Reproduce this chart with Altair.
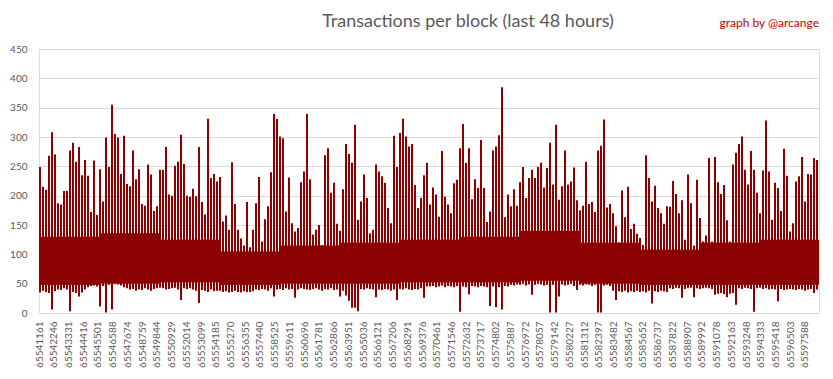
import altair as alt
import pandas as pd

chart_title = "Transactions per block (last 48 hours)"
credit = "graph by @arcange"

first_block = 65541161
last_block = 65598621

tick_blocks = [
    65541161, 65542246, 65543331, 65544416, 65545501, 65546588, 65547674, 65548759,
    65549844, 65550929, 65552014, 65553099, 65554185, 65555270, 65556355, 65557440,
    65558525, 65559611, 65560696, 65561781, 65562866, 65563951, 65565036, 65566121,
    65567206, 65568291, 65569376, 65570461, 65571546, 65572632, 65573717, 65574802,
    65575887, 65576972, 65578057, 65579142, 65580227, 65581312, 65582397, 65583482,
    65584567, 65585652, 65586737, 65587822, 65588907, 65589992, 65591078, 65592163,
    65593248, 65594333, 65595418, 65596503, 65597588,
]

y_ticks = [0, 50, 100, 150, 200, 250, 300, 350, 400, 450]

# highest transaction count inside each consecutive group of blocks
tx_max = [
    249, 215, 210, 268, 308, 270, 187, 185, 208, 208,
    277, 290, 258, 283, 235, 261, 234, 172, 260, 167,
    245, 190, 299, 249, 355, 305, 299, 237, 302, 220,
    216, 277, 228, 245, 186, 183, 253, 236, 174, 182,
    244, 244, 283, 202, 200, 251, 258, 304, 254, 200,
    198, 212, 199, 283, 189, 168, 331, 230, 237, 224,
    232, 156, 166, 142, 257, 186, 142, 127, 115, 189,
    112, 142, 187, 232, 122, 160, 182, 240, 339, 331,
    301, 298, 173, 231, 153, 139, 145, 223, 241, 339,
    228, 134, 142, 150, 116, 269, 281, 205, 222, 152,
    140, 211, 288, 271, 256, 321, 159, 190, 236, 196,
    136, 142, 253, 241, 233, 222, 179, 153, 302, 249,
    307, 331, 301, 284, 288, 218, 179, 196, 235, 256,
    185, 214, 202, 164, 276, 198, 185, 170, 221, 227,
    281, 322, 256, 281, 194, 228, 213, 295, 213, 155,
    173, 277, 284, 303, 385, 163, 202, 182, 211, 183,
    223, 249, 196, 230, 244, 230, 249, 256, 214, 247,
    290, 219, 321, 193, 216, 277, 219, 224, 248, 192,
    175, 183, 258, 186, 189, 172, 277, 285, 330, 180,
    186, 170, 148, 120, 209, 163, 215, 143, 152, 135,
    128, 116, 269, 230, 190, 217, 179, 170, 152, 182,
    181, 225, 203, 170, 192, 125, 236, 187, 115, 227,
    162, 122, 132, 264, 122, 266, 223, 203, 218, 158,
    122, 253, 273, 288, 301, 244, 219, 276, 244, 205,
    170, 243, 328, 241, 159, 222, 213, 174, 280, 234,
    139, 153, 224, 233, 266, 190, 237, 236, 264, 261,
]

# lowest transaction count inside each group of blocks
tx_min = [
    35, 38, 36, 34, 6, 37, 40, 39, 42, 40,
    3, 36, 34, 28, 35, 40, 44, 46, 47, 45,
    11, 46, 1, 48, 6, 50, 49, 47, 44, 42,
    40, 41, 38, 40, 39, 42, 40, 38, 41, 42,
    43, 42, 40, 41, 42, 43, 40, 22, 42, 41,
    42, 40, 38, 17, 39, 38, 36, 40, 37, 38,
    38, 36, 37, 35, 36, 38, 36, 35, 37, 36,
    36, 37, 40, 39, 41, 40, 38, 42, 28, 40,
    41, 39, 42, 40, 41, 26, 40, 42, 41, 40,
    39, 41, 42, 40, 38, 41, 40, 42, 39, 40,
    28, 38, 30, 21, 9, 9, 3, 41, 40, 42,
    41, 40, 27, 40, 39, 41, 40, 38, 40, 22,
    41, 40, 42, 40, 39, 41, 40, 42, 26, 45,
    45, 46, 44, 45, 47, 44, 46, 45, 44, 46,
    2, 45, 44, 32, 46, 45, 44, 46, 45, 44,
    12, 45, 10, 44, 6, 46, 45, 48, 47, 49,
    48, 50, 47, 49, 31, 48, 50, 49, 47, 48,
    1, 48, 1, 28, 49, 47, 48, 50, 46, 39,
    48, 47, 49, 48, 46, 48, 1, 1, 47, 48,
    46, 38, 22, 37, 36, 38, 35, 37, 36, 38,
    36, 37, 35, 38, 16, 37, 36, 38, 37, 36,
    42, 41, 43, 42, 26, 41, 42, 43, 27, 42,
    41, 42, 43, 42, 41, 31, 33, 34, 32, 27,
    33, 34, 14, 42, 41, 43, 42, 41, 2, 42,
    43, 41, 42, 40, 41, 40, 20, 41, 39, 40,
    41, 40, 39, 41, 40, 38, 40, 41, 34, 40,
]

# upper and lower edge of the densely filled band of the series, per stretch of blocks
band_top = [130, 136, 125, 105, 115, 120, 125, 130, 140, 120, 108, 120, 125]
band_bottom = [48, 50, 52, 48, 50, 50, 52, 52, 55, 50, 48, 48, 48]

RED = "#8b0000"
GRID = "#d9d9d9"
TEXT = "#595959"
FONT = "Lato"

PLOT_W = 780
PLOT_H = 264

n = len(tx_max)
m = len(band_top)
span = last_block - first_block
col = PLOT_W // n  # pixel columns per group


def px_to_block(px):
    return first_block + px / PLOT_W * span


groups = pd.DataFrame({
    # each group's line sits on the first two of its three pixel columns
    "block": [px_to_block(col * i + 1) for i in range(n)],
    "b0": [px_to_block(col * i) for i in range(n)],
    "b1": [px_to_block(col * (i + 1)) for i in range(n)],
    "max": tx_max,
    "min": tx_min,
    "band_top": [band_top[i * m // n] for i in range(n)],
    "band_bottom": [band_bottom[i * m // n] for i in range(n)],
})

xscale = alt.Scale(domain=[first_block, last_block], nice=False, zero=False)
yscale = alt.Scale(domain=[0, 450], nice=False)


def x_axis():
    return alt.Axis(
        values=tick_blocks, format="d", labelAngle=270, labelAlign="right",
        labelBaseline="middle", labelOverlap=False, labelFlush=False,
        labelFont=FONT, labelFontSize=10, labelColor=TEXT, labelPadding=8,
        ticks=False, grid=False, domain=True, domainColor=GRID, title=None,
    )


def y_axis():
    return alt.Axis(
        values=y_ticks, labelFont=FONT, labelFontSize=10, labelColor=TEXT,
        labelPadding=12, ticks=False, domain=False, grid=True, gridColor=GRID,
        gridWidth=1, title=None, labelOverlap=False, labelFlush=False,
    )


base = alt.Chart(groups)

spikes = base.mark_rule(color=RED, strokeWidth=2).encode(
    x=alt.X("block:Q", scale=xscale, axis=x_axis()),
    y=alt.Y("min:Q", scale=yscale, axis=y_axis()),
    y2="max:Q",
)

core = base.transform_calculate(
    dense_top="min(datum.max, datum.band_top)"
).mark_rect(color=RED).encode(
    x=alt.X("b0:Q", scale=xscale, axis=x_axis()),
    x2="b1:Q",
    y=alt.Y("band_bottom:Q", scale=yscale, axis=y_axis()),
    y2="dense_top:Q",
)

title_text = alt.Chart(pd.DataFrame({"t": [chart_title]})).mark_text(
    align="center", baseline="alphabetic", font=FONT, fontSize=18,
    color=TEXT,
).encode(text="t:N", x=alt.value(429), y=alt.value(-22))

credit_text = alt.Chart(pd.DataFrame({"t": [credit]})).mark_text(
    align="right", baseline="alphabetic", font=FONT, fontSize=12, color="#c00000",
).encode(text="t:N", x=alt.value(PLOT_W), y=alt.value(-22))

chart = alt.layer(spikes, core, title_text, credit_text).properties(
    width=PLOT_W,
    height=PLOT_H,
    autosize=alt.AutoSizeParams(type="none"),
    padding={"left": 31, "top": 41, "right": 6, "bottom": 58},
).configure_view(strokeWidth=0).configure(background="white")

chart.save("out.html", embed_options={"renderer": "svg", "actions": False})
